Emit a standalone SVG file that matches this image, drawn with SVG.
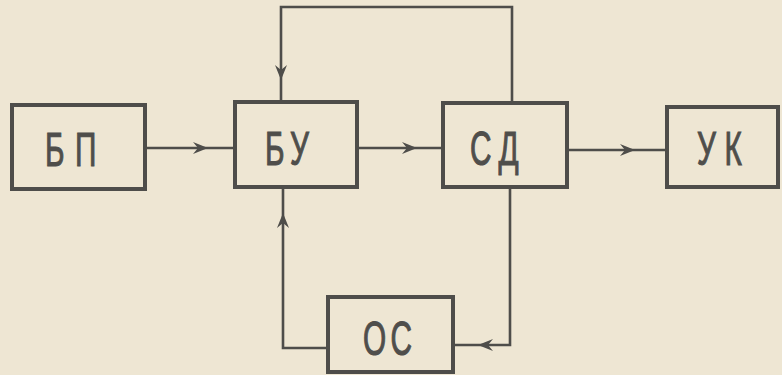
<svg xmlns="http://www.w3.org/2000/svg" width="782" height="375" viewBox="0 0 782 375">
  <style>
    .box { fill: none; stroke: #4e4d4a; stroke-width: 4; }
    .wire { fill: none; stroke: #4e4d4a; stroke-width: 2.6; stroke-linejoin: miter; }
    .barb { fill: #4e4d4a; }
    .lbl { font-family: "Liberation Sans", "DejaVu Sans", sans-serif; font-size: 48px; fill: #4f4e4b; stroke: #4f4e4b; stroke-width: 1.1; }
  </style>
  <defs>
    <!-- swallow-tail arrowhead pointing along +x, tip at the origin -->
    <path id="barb" class="barb" d="M0,0 L-15,-6 L-10,0 L-15,6 Z"/>
  </defs>

  <!-- paper -->
  <rect width="782" height="375" fill="#eee6d3"/>

  <g id="connectors">
    <path class="wire" d="M145,148 L235,148"/>
    <use href="#barb" transform="translate(208,148)"/>
    <path class="wire" d="M357,148 L443,148"/>
    <use href="#barb" transform="translate(417,148)"/>
    <path class="wire" d="M567,150 L667,150"/>
    <use href="#barb" transform="translate(635,150)"/>
    <path class="wire" d="M512,103 L512,7 L281,7 L281,102"/>
    <use href="#barb" transform="translate(281,80) rotate(90)"/>
    <path class="wire" d="M328,348 L283,348 L283,187"/>
    <use href="#barb" transform="translate(283,213) rotate(-90)"/>
    <path class="wire" d="M510,187 L510,345 L453,345"/>
    <use href="#barb" transform="translate(478,345) rotate(180)"/>
  </g>

  <g id="bp">
    <rect class="box" x="12" y="105" width="133" height="84"/>
    <text class="lbl" transform="translate(45,166) scale(0.62,1)"><tspan x="0">Б</tspan><tspan x="48.4">П</tspan></text>
  </g>
  <g id="bu">
    <rect class="box" x="235" y="102" width="122" height="85"/>
    <text class="lbl" transform="translate(265,165) scale(0.62,1)"><tspan x="0">Б</tspan><tspan x="40.3">У</tspan></text>
  </g>
  <g id="sd">
    <rect class="box" x="443" y="103" width="124" height="84"/>
    <text class="lbl" transform="translate(470,165) scale(0.62,1)"><tspan x="0">С</tspan><tspan x="46">Д</tspan></text>
  </g>
  <g id="uk">
    <rect class="box" x="667" y="107" width="111" height="80"/>
    <text class="lbl" transform="translate(697,165) scale(0.62,1)"><tspan x="0">У</tspan><tspan x="44.3">К</tspan></text>
  </g>
  <g id="os">
    <rect class="box" x="328" y="297" width="125" height="75"/>
    <text class="lbl" transform="translate(363,355) scale(0.62,1)"><tspan x="0">О</tspan><tspan x="44.3">С</tspan></text>
  </g>
</svg>
